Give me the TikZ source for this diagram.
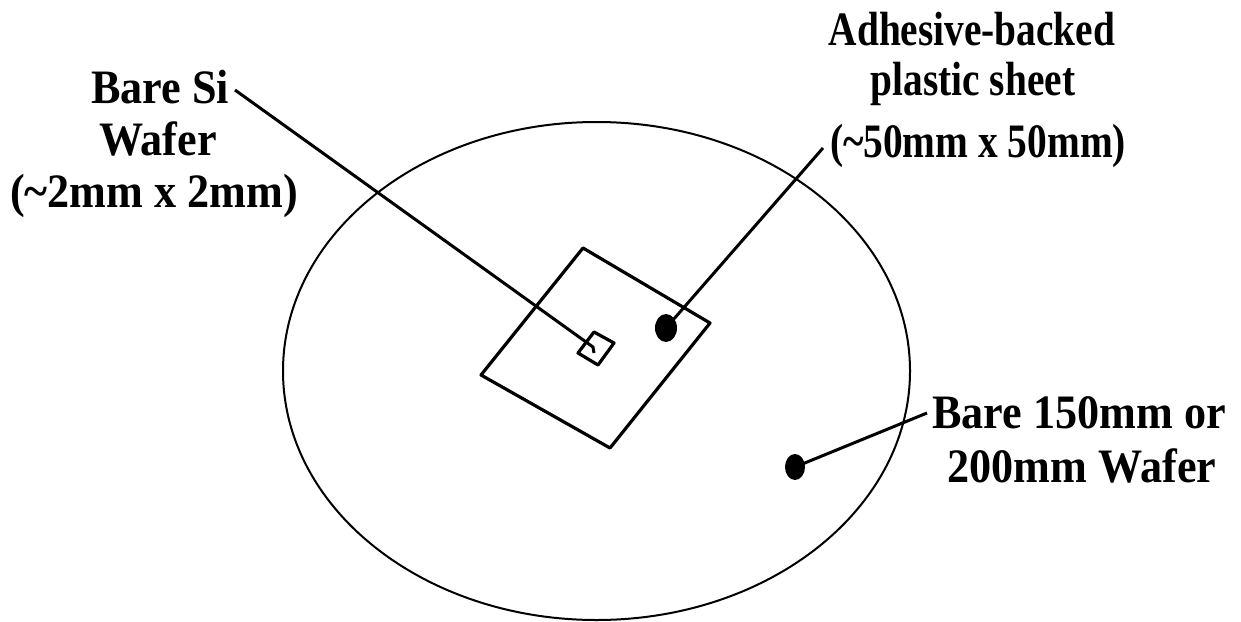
\documentclass[tikz,border=0pt]{standalone}
\usepackage{fontspec}
\setmainfont{Liberation Serif}[FakeStretch=0.92]
\newfontfamily\narrowserif{Liberation Serif}[FakeStretch=0.82]
\begin{document}
\begin{tikzpicture}[x=0.5pt,y=-0.5pt,
  lbl/.style={anchor=base,inner sep=0pt,font=\fontsize{24pt}{28pt}\selectfont\bfseries},
  lbln/.style={anchor=base,inner sep=0pt,font=\fontsize{24pt}{28pt}\narrowserif\bfseries},
  thin outline/.style={line width=1pt},
  edge/.style={line width=1.6pt,line join=round},
  leader/.style={line width=1.5pt},
  dot/.style={fill=black}]
\useasboundingbox (0,0) rectangle (1241,621);
% wafer
\draw[thin outline] (596.5,371) ellipse [x radius=313.5, y radius=249];
% plastic sheet
\coordinate (s1) at (583,248);
\coordinate (s2) at (710,323);
\coordinate (s3) at (610,448);
\coordinate (s4) at (481,375);
\draw[edge] (s1) -- (s2) -- (s3) -- (s4) -- cycle;
% small Si die
\coordinate (d1) at (594,332);
\coordinate (d2) at (614,343);
\coordinate (d3) at (598,365);
\coordinate (d4) at (578,353);
\draw[edge] (d1) -- (d2) -- (d3) -- (d4) -- cycle;
% dots
\fill[dot] (666,328) ellipse [x radius=11, y radius=14];
\coordinate (sheetdot) at (666,328);
\fill[dot] (795,467) ellipse [x radius=10, y radius=13];
\coordinate (waferdot) at (795,467);
% labels
\node[lbl] (si1) at (160,103) {Bare Si};
\node[lbl] (si2) at (158,155) {Wafer};
\node[lbl] (si3) at (154,207) {(\textasciitilde2mm x 2mm)};
\node[lbln] (ad1) at (972,45) {Adhesive-backed};
\node[lbln] (ad2) at (973,95) {plastic sheet};
\node[lbln] (ad3) at (978,157) {(\textasciitilde50mm x 50mm)};
\node[lbl] (wf1) at (1079,428) {Bare 150mm or};
\node[lbl] (wf2) at (1082,482) {200mm Wafer};
% leaders
\coordinate (siStart) at (235,90);
\coordinate (siEnd) at (593,347);
\coordinate (adStart) at (823,148);
\coordinate (wfStart) at (927,413);
\draw[leader] (siStart) -- (siEnd) -- ++(1,6);
\draw[leader] (adStart) -- (sheetdot);
\draw[leader] (wfStart) -- (waferdot);
\end{tikzpicture}
\end{document}
